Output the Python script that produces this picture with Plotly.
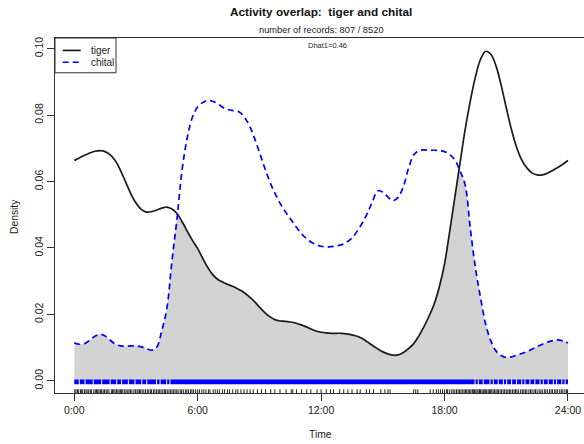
import numpy as np
import plotly.graph_objects as go

# Kernel density estimates of activity, evaluated every quarter hour (0:00-24:00)
hours = [i * 0.25 for i in range(97)]

tiger = [
    0.0663, 0.0671, 0.0679, 0.0686, 0.0691, 0.0693, 0.0690, 0.0680,   # 0-1.75
    0.0662, 0.0633, 0.0598, 0.0563, 0.0535, 0.0516, 0.0508, 0.0509,   # 2-3.75
    0.0514, 0.0520, 0.0523, 0.0517, 0.0503, 0.0478, 0.0449, 0.0422,   # 4-5.75
    0.0398, 0.0368, 0.0340, 0.0318, 0.0304, 0.0296, 0.0289, 0.0283,   # 6-7.75
    0.0275, 0.0266, 0.0253, 0.0239, 0.0222, 0.0206, 0.0193, 0.0184,   # 8-9.75
    0.0180, 0.0179, 0.0177, 0.0174, 0.0169, 0.0163, 0.0156, 0.0150,   # 10-11.75
    0.0146, 0.0144, 0.0143, 0.0143, 0.0143, 0.0141, 0.0138, 0.0134,   # 12-13.75
    0.0127, 0.0117, 0.0106, 0.0096, 0.0087, 0.0081, 0.0077, 0.0078,   # 14-15.75
    0.0085, 0.0097, 0.0112, 0.0135, 0.0163, 0.0195, 0.0232, 0.0284,   # 16-17.75
    0.0352, 0.0450, 0.0553, 0.0655, 0.0756, 0.0842, 0.0915, 0.0968,   # 18-19.75
    0.0992, 0.0983, 0.0948, 0.0890, 0.0822, 0.0757, 0.0703, 0.0665,   # 20-21.75
    0.0641, 0.0626, 0.0620, 0.0620, 0.0625, 0.0633, 0.0642, 0.0652,   # 22-23.75
    0.0663]

chital = [
    0.0114, 0.0110, 0.0112, 0.0122, 0.0134, 0.0140, 0.0135, 0.0122,   # 0-1.75
    0.0110, 0.0105, 0.0104, 0.0105, 0.0105, 0.0102, 0.0097, 0.0092,   # 2-3.75
    0.0100, 0.0150, 0.0218, 0.0362, 0.0492, 0.0640, 0.0735, 0.0795,   # 4-5.75
    0.0825, 0.0838, 0.0844, 0.0841, 0.0833, 0.0822, 0.0816, 0.0813,   # 6-7.75
    0.0810, 0.0795, 0.0770, 0.0732, 0.0688, 0.0642, 0.0600, 0.0565,   # 8-9.75
    0.0535, 0.0510, 0.0488, 0.0466, 0.0446, 0.0430, 0.0418, 0.0410,   # 10-11.75
    0.0405, 0.0403, 0.0404, 0.0406, 0.0410, 0.0418, 0.0430, 0.0450,   # 12-13.75
    0.0475, 0.0505, 0.0540, 0.0572, 0.0568, 0.0553, 0.0542, 0.0553,   # 14-15.75
    0.0585, 0.0640, 0.0680, 0.0693, 0.0695, 0.0694, 0.0694, 0.0693,   # 16-17.75
    0.0690, 0.0681, 0.0665, 0.0632, 0.0590, 0.0460, 0.0340, 0.0250,   # 18-19.75
    0.0170, 0.0120, 0.0090, 0.0076, 0.0070, 0.0072, 0.0077, 0.0082,   # 20-21.75
    0.0088, 0.0095, 0.0103, 0.0110, 0.0116, 0.0121, 0.0123, 0.0120,   # 22-23.75
    0.0114]

# Record times for the rugs
tiger_records = [
    0.02, 0.08, 0.15, 0.21, 0.3, 0.36, 0.41, 0.5, 0.57, 0.62, 0.7, 0.78, 0.83, 0.95,
    1.02, 1.08, 1.14, 1.2, 1.27, 1.33, 1.4, 1.47, 1.55, 1.6, 1.68, 1.8, 1.86, 1.92,
    1.98, 2.05, 2.12, 2.18, 2.24, 2.3, 2.36, 2.45, 2.52, 2.6, 2.66, 2.73, 2.8, 2.9,
    2.97, 3.05, 3.1, 3.17, 3.23, 3.3, 3.38, 3.46, 3.55, 3.62, 3.7, 3.76, 3.85, 3.92,
    4.0, 4.08, 4.15, 4.22, 4.3, 4.38, 4.44, 4.52, 4.6, 4.68, 4.75, 4.83, 4.9, 4.98,
    5.05, 5.15, 5.22, 5.3, 5.4, 5.47, 5.55, 5.65, 5.72, 5.8, 5.9, 6.0, 6.08, 6.2,
    6.3, 6.4, 6.52, 6.6, 6.75, 6.85, 6.95, 7.05, 7.2, 7.3, 7.45, 7.55, 7.7, 7.85,
    7.95, 8.1, 8.25, 8.4, 8.55, 8.7, 8.9, 9.1, 9.3, 9.55, 9.75, 10.0, 10.3, 10.55,
    10.62, 10.8, 11.05, 11.3, 11.5, 11.8, 12.0, 12.25, 12.45, 12.6, 12.9, 13.1,
    13.3, 13.5, 13.75, 13.9, 14.2, 14.35, 14.55, 14.9, 15.1, 15.25, 15.35, 16.5,
    16.6, 16.7, 17.3, 17.45, 17.6, 17.7, 17.8, 17.9, 18.0, 18.1, 18.15, 18.25,
    18.35, 18.42, 18.5, 18.58, 18.66, 18.73, 18.8, 18.88, 18.95, 19.02, 19.08,
    19.15, 19.22, 19.28, 19.35, 19.4, 19.46, 19.52, 19.58, 19.63, 19.7, 19.75,
    19.82, 19.88, 19.93, 20.0, 20.05, 20.12, 20.18, 20.24, 20.3, 20.36, 20.43,
    20.5, 20.56, 20.62, 20.7, 20.77, 20.85, 20.92, 21.0, 21.08, 21.15, 21.22,
    21.3, 21.38, 21.45, 21.52, 21.6, 21.7, 21.78, 21.85, 21.93, 22.0, 22.1,
    22.18, 22.25, 22.35, 22.42, 22.5, 22.6, 22.68, 22.75, 22.85, 22.92, 23.0,
    23.1, 23.18, 23.25, 23.35, 23.42, 23.5, 23.6, 23.68, 23.75, 23.85, 23.92, 23.98]

# Chital records are nearly continuous; the rug is stored as the empty gaps
chital_rug_gaps = [0.24, 0.52, 0.92, 1.33, 1.74, 2.06, 2.30, 2.63, 2.95, 3.28, 3.52,
                   4.0, 4.17, 4.49, 4.65, 19.48, 19.64, 19.88, 20.21, 20.37, 20.61,
                   20.86, 21.02, 21.26, 21.5, 21.75, 21.91, 22.15, 22.39, 22.64,
                   22.8, 23.04, 23.29, 23.45, 23.7, 23.86]

x_tick_vals = [0, 6, 12, 18, 24]
x_tick_text = ["0:00", "6:00", "12:00", "18:00", "24:00"]
y_tick_vals = [0.00, 0.02, 0.04, 0.06, 0.08, 0.10]

title_text = "Activity overlap:\u00a0 tiger and chital"
subtitle_text = "number of records: 807 / 8520"
dhat_text = "Dhat1=0.46"

FONT = "Liberation Sans, Arial, sans-serif"
W, H = 584, 444
L, R, T, B = 55, 0, 38.3, 51.3
PW, PH = W - L - R, H - T - B
SMOOTH = 1.0


def px(xp):
    return (xp - L) / PW


def py(yp):
    return (H - B - yp) / PH


# lower envelope of the two densities, with the crossing points added
ov_x, ov_y = [hours[0]], [min(tiger[0], chital[0])]
for i in range(1, len(hours)):
    d0 = tiger[i - 1] - chital[i - 1]
    d1 = tiger[i] - chital[i]
    if d0 * d1 < 0:
        f = d0 / (d0 - d1)
        ov_x.append(hours[i - 1] + f * (hours[i] - hours[i - 1]))
        ov_y.append(tiger[i - 1] + f * (tiger[i] - tiger[i - 1]))
    ov_x.append(hours[i])
    ov_y.append(min(tiger[i], chital[i]))

fig = go.Figure()

# shaded overlap area
fig.add_trace(go.Scatter(x=ov_x, y=ov_y, mode="lines", fill="tozeroy",
                         fillcolor="#d3d3d3",
                         line=dict(width=0, shape="spline", smoothing=SMOOTH),
                         hoverinfo="skip", showlegend=False))

# chital rug: filled runs between gaps
edges = [0.0] + chital_rug_gaps + [24.0]
gap_w = 0.05
rx, ry = [], []
rug_lo, rug_hi = -0.00106, 0.00036
for i in range(len(edges) - 1):
    a = edges[i] + (gap_w / 2 if i > 0 else 0)
    b = edges[i + 1] - (gap_w / 2 if i < len(edges) - 2 else 0)
    rx += [a, b, b, a, a, None]
    ry += [rug_lo, rug_lo, rug_hi, rug_hi, rug_lo, None]
fig.add_trace(go.Scatter(x=rx, y=ry, mode="lines", fill="toself",
                         fillcolor="#0000ff", line=dict(width=0),
                         hoverinfo="skip", showlegend=False))

# tiger rug: one tick per record
tx, ty = [], []
for t in tiger_records:
    tx += [t, t, None]
    ty += [-0.0037, -0.00257, None]
fig.add_trace(go.Scatter(x=tx, y=ty, mode="lines",
                         line=dict(color="#222222", width=1),
                         hoverinfo="skip", showlegend=False))

# density curves
fig.add_trace(go.Scatter(x=hours, y=tiger, mode="lines", name="tiger",
                         line=dict(color="#1a1a1a", width=1.7, shape="spline",
                                   smoothing=SMOOTH),
                         showlegend=False))
fig.add_trace(go.Scatter(x=hours, y=chital, mode="lines", name="chital",
                         line=dict(color="#0000ff", width=1.7, dash="6px,4px",
                                   shape="spline", smoothing=SMOOTH),
                         showlegend=False))

axis_common = dict(showgrid=False, zeroline=False, showline=True, linecolor="#333333",
                   linewidth=1, ticks="outside", ticklen=7, tickcolor="#333333",
                   tickwidth=1, tickfont=dict(family=FONT, size=10.5, color="#222222"))

fig.update_xaxes(range=[(L - 74.3) / 20.57, (W - R - 74.3) / 20.57],
                 tickvals=x_tick_vals, ticktext=x_tick_text, mirror=True,
                 **axis_common)
fig.update_yaxes(range=[-0.00368, 0.1032], tickvals=y_tick_vals,
                 tickformat=".2f", tickangle=-90, **axis_common)

annotations = [
    dict(x=px(321), y=py(12), text="<b>" + title_text + "</b>",
         font=dict(family=FONT, size=11.8, color="#111111")),
    dict(x=px(321), y=py(30), text=subtitle_text,
         font=dict(family=FONT, size=9.3, color="#222222")),
    dict(x=px(327), y=py(46), text=dhat_text,
         font=dict(family=FONT, size=7.5, color="#222222")),
    dict(x=px(320), y=py(434), text="Time",
         font=dict(family=FONT, size=10.3, color="#222222")),
    dict(x=px(14), y=py(217), text="Density", textangle=-90,
         font=dict(family=FONT, size=10.3, color="#222222")),
    dict(x=px(89), y=py(50.7), text="tiger", xanchor="left",
         font=dict(family=FONT, size=10, color="#222222")),
    dict(x=px(89), y=py(62.5), text="chital", xanchor="left",
         font=dict(family=FONT, size=10, color="#222222")),
]
for a in annotations:
    a.setdefault("xanchor", "center")
    a.update(xref="paper", yref="paper", yanchor="middle", showarrow=False)

shapes = [
    dict(type="rect", xref="paper", yref="paper", x0=px(55), x1=px(116),
         y0=py(73), y1=py(38.3), line=dict(color="#333333", width=1),
         fillcolor="white", layer="above"),
    dict(type="line", xref="paper", yref="paper", x0=px(62.7), x1=px(80.7),
         y0=py(50.7), y1=py(50.7), line=dict(color="#1a1a1a", width=1.7)),
    dict(type="line", xref="paper", yref="paper", x0=px(62.7), x1=px(80.7),
         y0=py(62.5), y1=py(62.5), line=dict(color="#0000ff", width=1.7,
                                              dash="6px,4px")),
]

fig.update_layout(width=W, height=H, margin=dict(l=L, r=R, t=T, b=B, pad=0),
                  plot_bgcolor="white", paper_bgcolor="white",
                  annotations=annotations, shapes=shapes, showlegend=False)

fig.write_html("out.html")
